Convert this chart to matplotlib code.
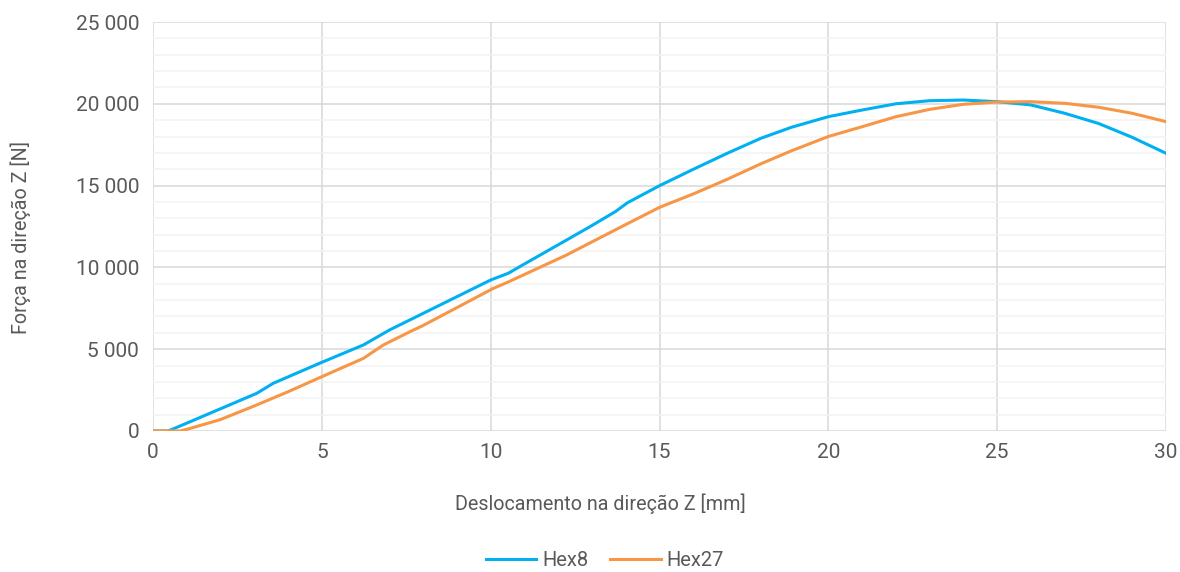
import matplotlib
matplotlib.use("Agg")
import matplotlib.pyplot as plt
from matplotlib.ticker import MultipleLocator, FuncFormatter

# Displacement (mm) and force (N) for the two element types
hex8_x = [0, 0.45, 1, 2, 3.07, 3.56, 5, 6.23, 7, 8, 9, 10, 10.52, 11, 12.25, 13,
          13.7, 14.05, 15, 16, 17, 18, 18.9, 20, 21, 22, 23, 24, 25, 26, 27, 28, 29, 30]
hex8_f = [0, 0, 480, 1360, 2300, 2915, 4200, 5257, 6170, 7190, 8210, 9230, 9640,
          10210, 11675, 12560, 13420, 13950, 14995, 15995, 16970, 17890, 18560,
          19213, 19620, 20000, 20190, 20230, 20130, 19930, 19420, 18800, 17950, 16975]

hex27_x = [0, 0.8, 1.1, 2, 3.07, 4, 5, 6.23, 6.82, 7.61, 8, 10.08, 10.5, 12.25, 13,
           14, 15, 16, 17, 18, 18.9, 20, 21, 22, 23, 24, 25, 26, 27, 28, 29, 30]
hex27_f = [0, 0, 160, 700, 1590, 2400, 3320, 4440, 5257, 6070, 6450, 8720, 9090,
           10760, 11560, 12620, 13670, 14490, 15380, 16330, 17120, 18000, 18600,
           19210, 19660, 19970, 20110, 20130, 20030, 19790, 19420, 18910]

series_names = ["Hex8", "Hex27"]
x_label = "Deslocamento na direção Z [mm]"
y_label = "Força na direção Z [N]"

BLUE = "#00B0F0"
ORANGE = "#F79646"
TEXT = "#595959"

plt.rcParams["font.family"] = ["Roboto", "DejaVu Sans"]

fig = plt.figure(figsize=(11.8, 5.72), dpi=100)
ax = fig.add_axes([153 / 1180, 1 - 431 / 572, (1166 - 153) / 1180, (431 - 22) / 572])

ax.plot(hex8_x, hex8_f, color=BLUE, lw=2.2, label=series_names[0], zorder=3,
        solid_joinstyle="round")
ax.plot(hex27_x, hex27_f, color=ORANGE, lw=2.2, label=series_names[1], zorder=3,
        solid_joinstyle="round")

ax.set_xlim(0, 30)
ax.set_ylim(0, 25000)
ax.xaxis.set_major_locator(MultipleLocator(5))
ax.yaxis.set_major_locator(MultipleLocator(5000))
ax.yaxis.set_minor_locator(MultipleLocator(1000))
ax.yaxis.set_major_formatter(FuncFormatter(lambda v, p: f"{int(v):,}".replace(",", " ")))

ax.grid(which="major", axis="both", color="#D9D9D9", lw=1.1, zorder=0)
ax.grid(which="minor", axis="y", color="#F2F2F2", lw=1.1, zorder=0)
ax.set_axisbelow(True)
for s in ax.spines.values():
    s.set_visible(False)
ax.tick_params(which="both", length=0, colors=TEXT, labelsize=15, pad=9)
ax.tick_params(axis="y", pad=10)

# Axis titles placed in figure coordinates
fig.text(600 / 1180, 1 - 504 / 572, x_label, color=TEXT, fontsize=14.2,
         ha="center", va="center")
fig.text(21 / 1180, 1 - 237 / 572, y_label, color=TEXT, fontsize=14.2,
         ha="center", va="center", rotation=90)

fig.legend(loc="center", bbox_to_anchor=(605 / 1180, 1 - 561 / 572), ncol=2,
           frameon=False, fontsize=14.5, handlelength=2.5, columnspacing=1.1,
           handletextpad=0.3, labelcolor=TEXT)

fig.savefig("out.png", dpi=100, facecolor="white")
